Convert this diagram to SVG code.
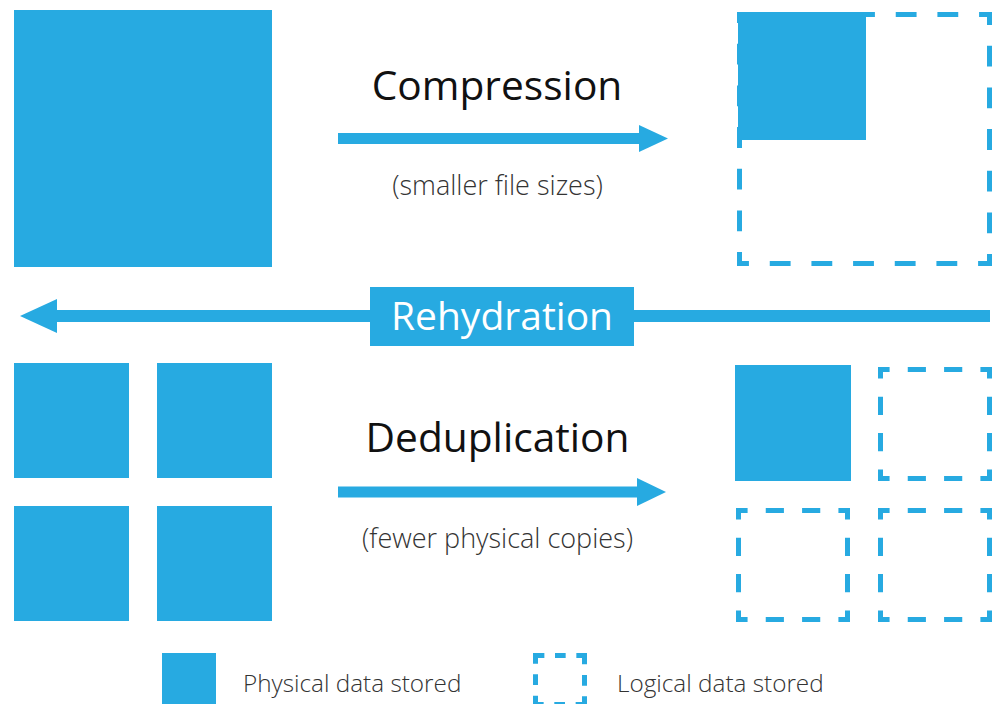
<svg xmlns="http://www.w3.org/2000/svg" width="996" height="704" viewBox="0 0 996 704">
<style>
.fill{fill:#27aae1}
.dash{fill:none;stroke:#27aae1;stroke-width:5;stroke-linejoin:miter}
.title{font-family:"Open Sans","Noto Sans",sans-serif;font-size:40.7px;fill:#111;text-anchor:middle}
.sub{font-family:"Open Sans","Noto Sans",sans-serif;font-weight:300;font-size:27px;fill:#333;text-anchor:middle}
.leg{font-family:"Open Sans","Noto Sans",sans-serif;font-weight:300;font-size:24.3px;fill:#333}
.shaft{stroke:#27aae1;stroke-width:11;fill:none}
</style>
<rect width="996" height="704" fill="#fff"/>
<g id="original-large">
<rect class="fill" x="14" y="10" width="258" height="257"/>
</g>
<g id="compressed">
<path class="dash" d="M760.33,14.5 H989.5 V263.5 H739.5 V14.5 Z" stroke-dasharray="20.833 20.833" stroke-dashoffset="31.25"/>
<rect class="fill" x="738" y="12" width="128" height="128"/>
</g>
<g id="original-copies">
<rect class="fill" x="14" y="363" width="115" height="115"/>
<rect class="fill" x="157" y="363" width="115" height="115"/>
<rect class="fill" x="14" y="506" width="115" height="115"/>
<rect class="fill" x="157" y="506" width="115" height="115"/>
</g>
<g id="deduplicated">
<rect class="fill" x="735" y="365" width="116" height="116"/>
<path class="dash" d="M898.67,369.5 H989.5 V478.5 H880.5 V369.5 Z" stroke-dasharray="18.167 18.167" stroke-dashoffset="27.25"/>
<path class="dash" d="M756.67,510.5 H847.5 V619.5 H738.5 V510.5 Z" stroke-dasharray="18.167 18.167" stroke-dashoffset="27.25"/>
<path class="dash" d="M898.67,510.5 H989.5 V619.5 H880.5 V510.5 Z" stroke-dasharray="18.167 18.167" stroke-dashoffset="27.25"/>
</g>
<g id="connectors">
<g id="compression-arrow">
<line class="shaft" x1="338" y1="138.5" x2="642" y2="138.5"/>
<polygon class="fill" points="639,125 668,138.5 639,152"/>
</g>
<g id="dedup-arrow">
<line class="shaft" x1="338" y1="492" x2="640" y2="492"/>
<polygon class="fill" points="637,478 666,492 637,506"/>
</g>
<g id="rehydration-arrow">
<line class="shaft" x1="54" y1="316" x2="990" y2="316" style="stroke-width:12"/>
<polygon class="fill" points="57,299 20,316 57,333"/>
</g>
</g>
<g id="labels">
<text class="title" x="497" y="100">Compression</text>
<text class="sub" x="497.5" y="195">(smaller file sizes)</text>
<text class="title" x="497.5" y="452">Deduplication</text>
<text class="sub" x="497.5" y="548">(fewer physical copies)</text>
</g>
<g id="rehydration">
<rect class="fill" x="370" y="287" width="264" height="59"/>
<text x="502" y="330" style="font-family:'Open Sans','Noto Sans',sans-serif;font-size:39px;fill:#fff;text-anchor:middle">Rehydration</text>
</g>
<g id="legend-physical">
<rect class="fill" x="162" y="653" width="54" height="54"/>
<text class="leg" x="243" y="692">Physical data stored</text>
</g>
<g id="legend-logical">
<path class="dash" d="M549.5,655.5 H584.5 V704.5 H535.5 V655.5 Z" stroke-dasharray="0 5.5 10.67 10.67 17 10.67 10.67 10.67 17 10.67 10.67 10.67 17 10.67 10.67 10.67 17 5.5"/>
<text class="leg" x="617" y="692">Logical data stored</text>
</g>
</svg>
